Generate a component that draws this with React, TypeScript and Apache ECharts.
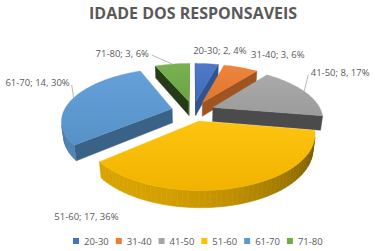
import React, { useEffect, useRef } from 'react';
import * as echarts from 'echarts';

const title = 'IDADE DOS RESPONSAVEIS';
const categories = ['20-30', '31-40', '41-50', '51-60', '61-70', '71-80'];
const counts = [2, 3, 8, 17, 14, 3];
const percents = [4, 6, 17, 36, 30, 6];
const colors = ['#4472C4', '#ED7D31', '#A5A5A5', '#FFC000', '#5B9BD5', '#70AD47'];

// 3D projection layout
const CX = 193;
const CY = 111;
const F = 455;
const DIST = 4.2;
const SIN_A = 0.46;
const COS_A = Math.sqrt(1 - SIN_A * SIN_A);
const EXPLODE = 0.2;
const THICK = 0.15;
const LABEL_NUDGE = [[13, -13], [37, -12.5], [36, -18.5], [-152, 29], [-36, -15], [-50, -11]];
const LEADER = [false, false, true, false, true, true];
const FONT = '"Open Sans", "Noto Sans", sans-serif';

function project(x: number, z: number, y: number): number[] {
  const v = z * SIN_A + y * COS_A;
  const depth = DIST + z * COS_A - y * SIN_A;
  return [CX + (F * x) / depth, CY - (F * v) / depth];
}

function shade(hex: string, f: number): string {
  const n = parseInt(hex.slice(1), 16);
  const ch = [(n >> 16) & 255, (n >> 8) & 255, n & 255].map((c) => {
    const v = f <= 1 ? c * f : c + (255 - c) * (f - 1);
    return Math.max(0, Math.min(255, Math.round(v)));
  });
  return `rgb(${ch[0]},${ch[1]},${ch[2]})`;
}

function buildSlice(i: number, a0: number, a1: number, count: number, pct: number) {
  const b = (a0 + a1) / 2;
  const ox = EXPLODE * Math.sin(b);
  const oz = EXPLODE * Math.cos(b);
  const rimPt = (t: number, y: number) => project(ox + Math.sin(t), oz + Math.cos(t), y);
  const apexTop = project(ox, oz, 0);
  const apexBot = project(ox, oz, -THICK);
  const base = colors[i];
  const camZ = -DIST * COS_A;
  const faces = (nx: number, nz: number, px: number, pz: number) => nx * -px + nz * (camZ - pz) > 0;
  const children: any[] = [];

  const radial = (t: number, nx: number, nz: number) => {
    const px = ox + 0.5 * Math.sin(t);
    const pz = oz + 0.5 * Math.cos(t);
    if (!faces(nx, nz, px, pz)) return;
    const c = shade(base, 0.55 + 0.2 * (nx + 0.3 * nz));
    children.push({
      type: 'polygon',
      shape: { points: [apexTop, rimPt(t, 0), rimPt(t, -THICK), apexBot] },
      style: { fill: c, stroke: c, lineWidth: 0.5 },
    });
  };
  radial(a0, -Math.cos(a0), Math.sin(a0));
  radial(a1, Math.cos(a1), -Math.sin(a1));

  const n = Math.max(3, Math.ceil(((a1 - a0) / (Math.PI * 2)) * 160));
  for (let k = 0; k < n; k++) {
    const t0 = a0 + ((a1 - a0) * k) / n;
    const t1 = a0 + ((a1 - a0) * (k + 1)) / n;
    const tm = (t0 + t1) / 2;
    const nx = Math.sin(tm);
    const nz = Math.cos(tm);
    if (!faces(nx, nz, ox + nx, oz + nz)) continue;
    const c = shade(base, 0.55 + 0.3 * (-0.6 * nx - 0.8 * nz));
    children.push({
      type: 'polygon',
      shape: { points: [rimPt(t0, 0), rimPt(t1, 0), rimPt(t1, -THICK), rimPt(t0, -THICK)] },
      style: { fill: c, stroke: c, lineWidth: 0.6 },
    });
  }

  const pts: number[][] = [apexTop];
  for (let k = 0; k <= n; k++) pts.push(rimPt(a0 + ((a1 - a0) * k) / n, 0));
  children.push({
    type: 'polygon',
    shape: { points: pts },
    style: {
      fill: new echarts.graphic.LinearGradient(0, 0, 0, 1, [
        { offset: 0, color: shade(base, 1.06) },
        { offset: 1, color: shade(base, 0.94) },
      ]),
      stroke: base,
      lineWidth: 0.3,
    },
  });

  const rim = project((1 + EXPLODE) * Math.sin(b), (1 + EXPLODE) * Math.cos(b), 0);
  const lx = rim[0] + LABEL_NUDGE[i][0];
  const ly = rim[1] + LABEL_NUDGE[i][1];
  const text = `${categories[i]}; ${count}, ${pct}%`;
  if (LEADER[i]) {
    const hw = (text.length * 4.6) / 2 + 2;
    const sx = rim[0] > lx ? lx + hw : lx - hw;
    children.push({
      type: 'line',
      shape: { x1: sx, y1: ly + 2, x2: rim[0], y2: rim[1] },
      style: { stroke: '#A6A6A6', lineWidth: 0.8 },
    });
  }
  children.push({
    type: 'text',
    style: {
      text,
      x: lx,
      y: ly,
      fill: '#595959',
      fontSize: 9.5,
      fontFamily: FONT,
      align: 'center',
      verticalAlign: 'middle',
    },
  });
  return { type: 'group', children };
}

export default function App() {
  const ref = useRef<HTMLDivElement>(null);
  useEffect(() => {
    const chart = echarts.init(ref.current!, null, { renderer: 'svg' });
    const total = counts.reduce((a, c) => a + c, 0);
    const starts: number[] = [];
    let acc = 0;
    counts.forEach((c) => {
      starts.push((acc / total) * Math.PI * 2);
      acc += c;
    });
    const depthKey = counts.map((c, i) => Math.cos(starts[i] + ((c / total) * Math.PI * 2) / 2));
    const order = depthKey.map((_, i) => i).sort((a, b) => depthKey[b] - depthKey[a]);
    const series = categories.map((name, i) => {
      const a0 = starts[i];
      const a1 = a0 + (counts[i] / total) * Math.PI * 2;
      return {
        type: 'custom',
        name,
        coordinateSystem: 'none',
        silent: true,
        z: 2 + order.indexOf(i),
        itemStyle: { color: colors[i] },
        data: [[counts[i], percents[i]]],
        renderItem: (_p: any, api: any) => buildSlice(i, a0, a1, api.value(0), api.value(1)),
      };
    });
    chart.setOption({
      animation: false,
      backgroundColor: '#ffffff',
      title: {
        text: title,
        left: 84,
        top: 0,
        textStyle: { fontSize: 16, fontWeight: 'bold', color: '#595959', fontFamily: FONT },
      },
      legend: {
        data: categories,
        left: 68,
        top: 231,
        icon: 'rect',
        itemWidth: 6,
        itemHeight: 6,
        itemGap: 7,
        textStyle: { fontSize: 9.5, color: '#595959', fontFamily: FONT },
      },
      series,
    });
    return () => chart.dispose();
  }, []);
  return <div ref={ref} style={{ position: 'absolute', left: 0, top: 0, width: 375, height: 251 }} />;
}
